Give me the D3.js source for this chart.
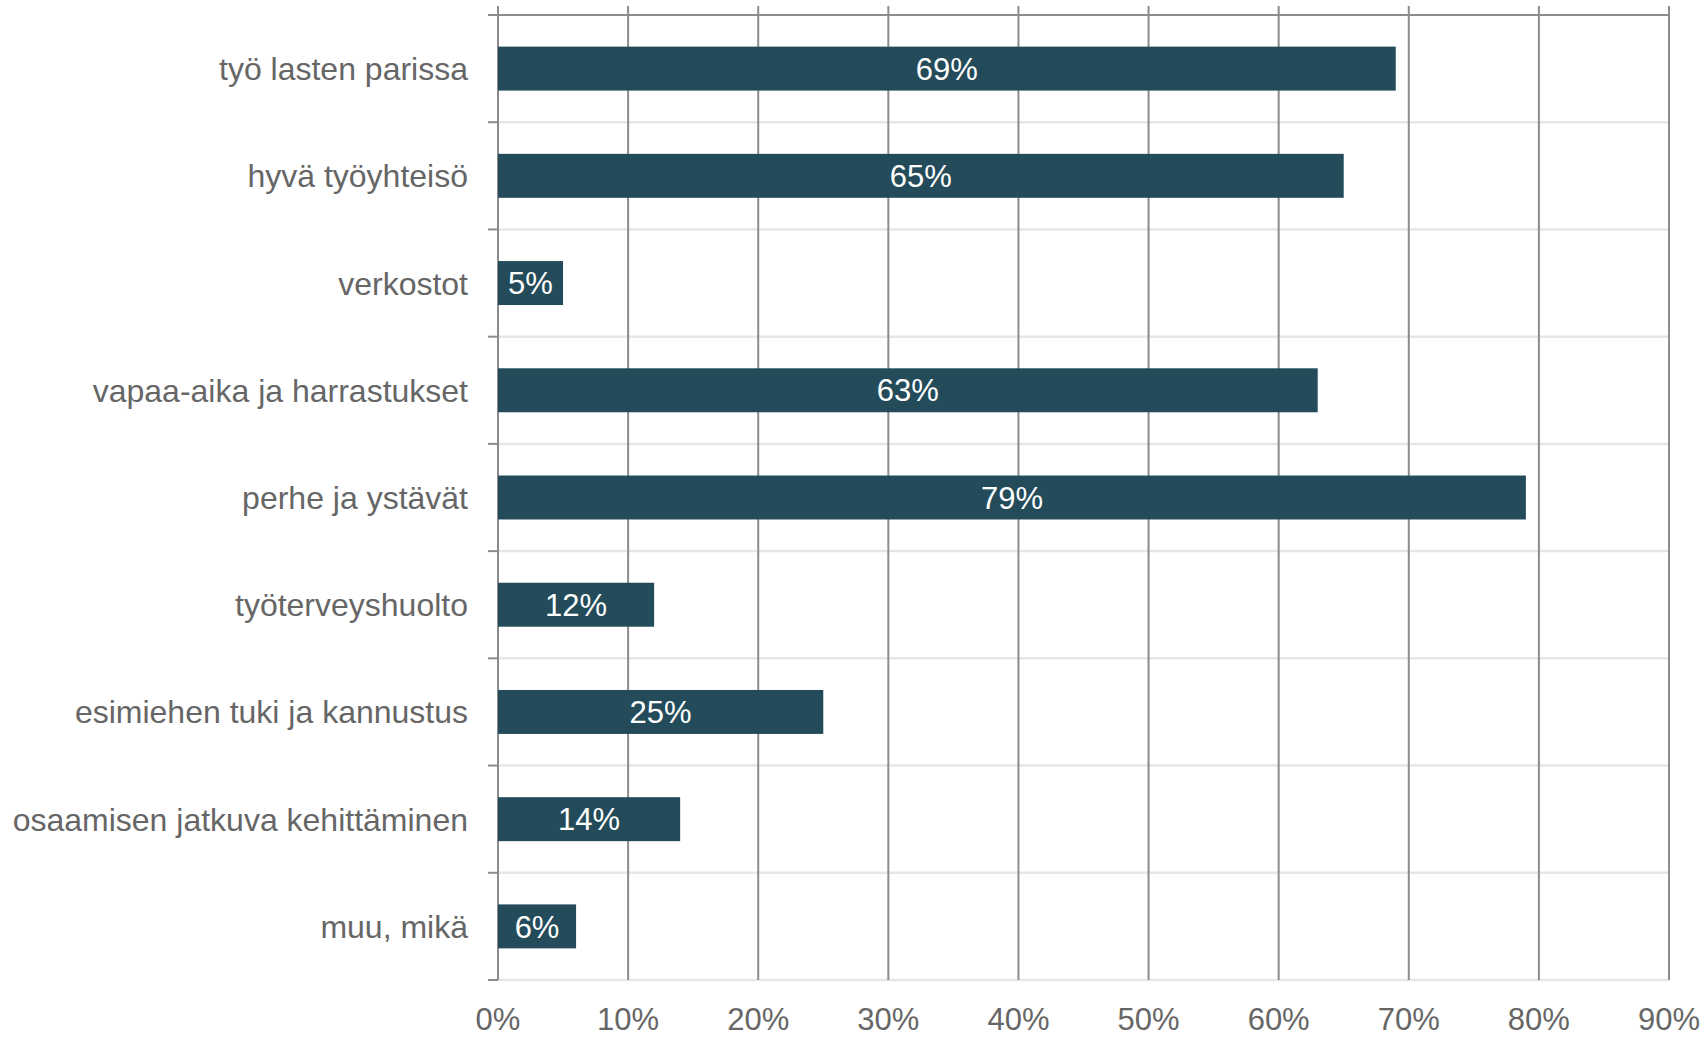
<!DOCTYPE html>
<html><head><meta charset="utf-8">
<script src="https://cdn.jsdelivr.net/npm/d3@7"></script>
<style>body{margin:0;background:#fff;} svg{display:block;font-family:"Liberation Sans",Arial,sans-serif;}</style>
</head><body>
<svg id="c" width="1706" height="1037"></svg>
<script>
const categories = ["työ lasten parissa","hyvä työyhteisö","verkostot","vapaa-aika ja harrastukset","perhe ja ystävät","työterveyshuolto","esimiehen tuki ja kannustus","osaamisen jatkuva kehittäminen","muu, mikä"];
const values = [69,65,5,63,79,12,25,14,6];
const tickValues = [0,10,20,30,40,50,60,70,80,90];

(function(){
const svg = d3.select("#c");
const pLeft = 498, pRight = 1669, pTop = 15, pBottom = 980;
const x = d3.scaleLinear().domain([0,90]).range([pLeft,pRight]);
const y = d3.scaleBand().domain(categories).range([pTop,pBottom]).paddingInner(0.59).paddingOuter(0.295);
const yb = d3.scaleBand().domain(categories).range([pTop,pBottom]);

const bounds = categories.map(c=>yb(c)+yb.bandwidth()).slice(0,-1);
svg.selectAll("line.sep").data(bounds).join("line")
  .attr("x1",pLeft).attr("x2",pRight).attr("y1",d=>d).attr("y2",d=>d)
  .attr("stroke","#e6e6e6").attr("stroke-width",2.5);
svg.append("line").attr("x1",pLeft).attr("x2",pRight).attr("y1",pBottom).attr("y2",pBottom)
  .attr("stroke","#e6e6e6").attr("stroke-width",2.5);

svg.selectAll("line.vg").data(tickValues).join("line")
  .attr("x1",d=>x(d)).attr("x2",d=>x(d)).attr("y1",6).attr("y2",pBottom)
  .attr("stroke","#8c8c8c").attr("stroke-width",2);

svg.append("line").attr("x1",pLeft-10).attr("x2",pRight).attr("y1",pTop).attr("y2",pTop)
  .attr("stroke","#8c8c8c").attr("stroke-width",2);
svg.selectAll("line.lt").data(bounds.concat([pBottom])).join("line")
  .attr("x1",pLeft-10).attr("x2",pLeft).attr("y1",d=>d).attr("y2",d=>d)
  .attr("stroke","#8c8c8c").attr("stroke-width",2);

svg.selectAll("rect.bar").data(categories).join("rect")
  .attr("x",x(0)).attr("y",d=>y(d)).attr("height",y.bandwidth())
  .attr("width",(d,i)=>x(values[i])-x(0)).attr("fill","#234b5a");

svg.selectAll("text.val").data(categories).join("text")
  .attr("x",(d,i)=>(x(0)+x(values[i]))/2).attr("y",d=>y(d)+y.bandwidth()/2)
  .attr("dy","0.36em").attr("text-anchor","middle").attr("fill","#fff")
  .attr("font-size",31).text((d,i)=>values[i]+"%");

svg.selectAll("text.cat").data(categories).join("text")
  .attr("x",468).attr("y",d=>yb(d)+yb.bandwidth()/2)
  .attr("dy","0.36em").attr("text-anchor","end").attr("fill","#666")
  .attr("font-size",32).text(d=>d);

svg.selectAll("text.tick").data(tickValues).join("text")
  .attr("x",d=>x(d)).attr("y",1030).attr("text-anchor","middle").attr("fill","#666")
  .attr("font-size",31).text(d=>d+"%");
})();
</script>
</body></html>
